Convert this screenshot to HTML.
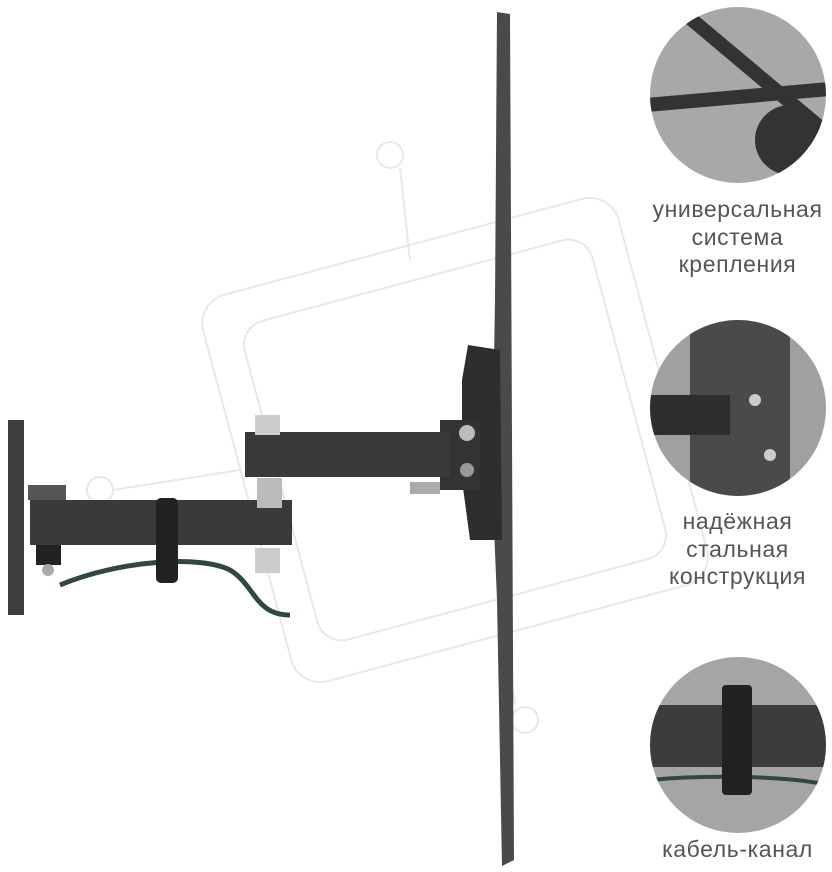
<!DOCTYPE html>
<html><head><meta charset="utf-8"><style>
html,body{margin:0;padding:0;background:#fff;}
body{width:832px;height:872px;position:relative;overflow:hidden;font-family:"Liberation Sans",sans-serif;}
.lbl{position:absolute;left:635px;width:205px;text-align:center;color:#555;font-size:23px;line-height:27.5px;letter-spacing:0.6px;}
</style></head><body>
<svg width="832" height="872" style="position:absolute;left:0;top:0">
<g fill="none" stroke="#e8e8e8" stroke-width="2">
<rect x="240" y="240" width="430" height="400" rx="30" transform="rotate(-15 455 440)"/>
<rect x="275" y="275" width="360" height="330" rx="25" transform="rotate(-15 455 440)"/>
<circle cx="390" cy="155" r="13"/><line x1="400" y1="168" x2="410" y2="260"/>
<circle cx="525" cy="720" r="13"/><line x1="505" y1="640" x2="515" y2="705"/>
<circle cx="100" cy="490" r="13"/><line x1="113" y1="490" x2="240" y2="470"/>
</g>
<path d="M497 12 L510 14 L514 860 L502 866 L497 600 L492 480 L495 300 Z" fill="#4a4a4a"/>
<path d="M468 345 L500 350 L502 540 L470 540 L462 480 L462 380 Z" fill="#2e2e2e"/>
<rect x="440" y="420" width="40" height="70" fill="#333"/>
<circle cx="467" cy="433" r="8" fill="#bbb"/><circle cx="467" cy="470" r="7" fill="#999"/>
<rect x="245" y="432" width="205" height="45" fill="#3a3a3a"/>
<rect x="255" y="415" width="25" height="20" fill="#ccc"/>
<rect x="410" y="482" width="30" height="12" fill="#aaa"/>
<rect x="30" y="500" width="262" height="45" fill="#3a3a3a"/>
<rect x="28" y="485" width="38" height="15" fill="#555"/>
<rect x="36" y="545" width="25" height="20" fill="#222"/>
<rect x="257" y="478" width="25" height="30" fill="#bbb"/>
<rect x="255" y="548" width="25" height="25" fill="#ccc"/>
<path d="M60 585 C120 560 200 555 230 570 C255 585 255 615 290 615" fill="none" stroke="#2f4a3c" stroke-width="5"/>
<rect x="156" y="498" width="22" height="85" rx="5" fill="#222"/>
<rect x="8" y="420" width="16" height="195" fill="#3d3d3d"/>
<circle cx="48" cy="570" r="6" fill="#aaa"/>
<defs><clipPath id="c1"><circle cx="738" cy="95" r="88"/></clipPath>
<clipPath id="c2"><circle cx="738" cy="408" r="88"/></clipPath>
<clipPath id="c3"><circle cx="738" cy="745" r="88"/></clipPath></defs>
<circle cx="738" cy="95" r="88" fill="#a8a8a8"/>
<g clip-path="url(#c1)" fill="#333">
<rect x="640" y="60" width="200" height="14" transform="rotate(40 738 95)"/>
<rect x="640" y="90" width="200" height="14" transform="rotate(-5 738 95)"/>
<circle cx="790" cy="140" r="35"/>
</g>
<circle cx="738" cy="408" r="88" fill="#a0a0a0"/>
<g clip-path="url(#c2)">
<rect x="690" y="320" width="100" height="180" fill="#4a4a4a"/>
<rect x="650" y="395" width="80" height="40" fill="#2e2e2e"/>
<circle cx="755" cy="400" r="6" fill="#ccc"/><circle cx="770" cy="455" r="6" fill="#ccc"/>
</g>
<circle cx="738" cy="745" r="88" fill="#a5a5a5"/>
<g clip-path="url(#c3)">
<rect x="640" y="705" width="200" height="62" fill="#3c3c3c"/>
<path d="M650 780 C700 775 780 775 830 785" stroke="#2f4a3c" stroke-width="4" fill="none"/>
<rect x="722" y="685" width="30" height="110" rx="4" fill="#222"/>
</g>
</svg>
<div class="lbl" style="top:196px">универсальная<br>система<br>крепления</div>
<div class="lbl" style="top:508px">надёжная<br>стальная<br>конструкция</div>
<div class="lbl" style="top:836px">кабель-канал</div>
</body></html>
